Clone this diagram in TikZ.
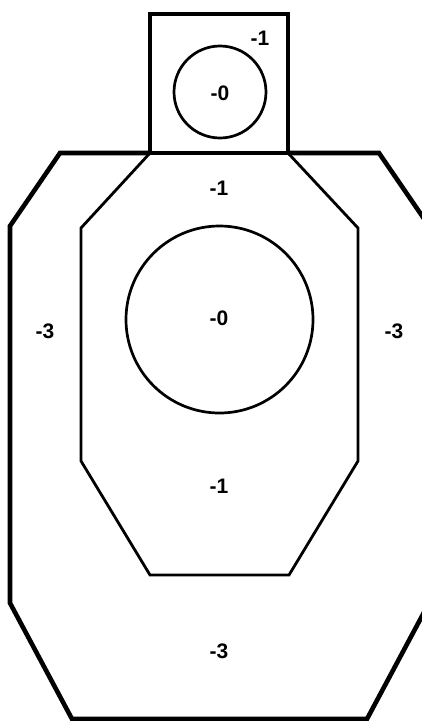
\documentclass[tikz,border=0pt]{standalone}
\usepackage{fontspec}
\setmainfont{Liberation Sans}
\begin{document}
\begin{tikzpicture}[x=1pt,y=-1pt,
  outerline/.style={line width=4.6pt},
  headline/.style={line width=4pt},
  innerline/.style={line width=2.8pt},
  ringline/.style={line width=2.7pt},
  score/.style={font=\fontsize{21}{24}\selectfont\bfseries, inner sep=0pt}]
\useasboundingbox (0,0) rectangle (422,721);
\clip (0,0) rectangle (422,721);
% outer body
\draw[outerline] (150,153) -- (60,153) -- (10,226) -- (10,603) -- (72,719) -- (367,719) -- (429,603) -- (429,226) -- (379,153) -- (288,153);
% head box
\draw[headline] (150,153) -- (150,14) -- (288,14) -- (288,153);
% inner body
\draw[innerline] (150,153) -- (81,228) -- (81,461) -- (150,575) -- (289,575) -- (358,461) -- (358,228) -- (288,153) -- cycle;
\draw[headline] (150,153) -- (288,153);
% circles
\node[draw, circle, ringline, minimum size=92pt, inner sep=0pt] (headring) at (220,92) {};
\node[draw, circle, ringline, minimum size=187pt, inner sep=0pt] (bodyring) at (219.5,319.5) {};
% labels
\node[score] (h1) at (260,38) {-1};
\node[score] (h0) at (220,93) {-0};
\node[score] (t1) at (219,188) {-1};
\node[score] (c0) at (219,318) {-0};
\node[score] (l3) at (45,331) {-3};
\node[score] (r3) at (394,331) {-3};
\node[score] (b1) at (219,486) {-1};
\node[score] (b3) at (219,651) {-3};
\end{tikzpicture}
\end{document}
